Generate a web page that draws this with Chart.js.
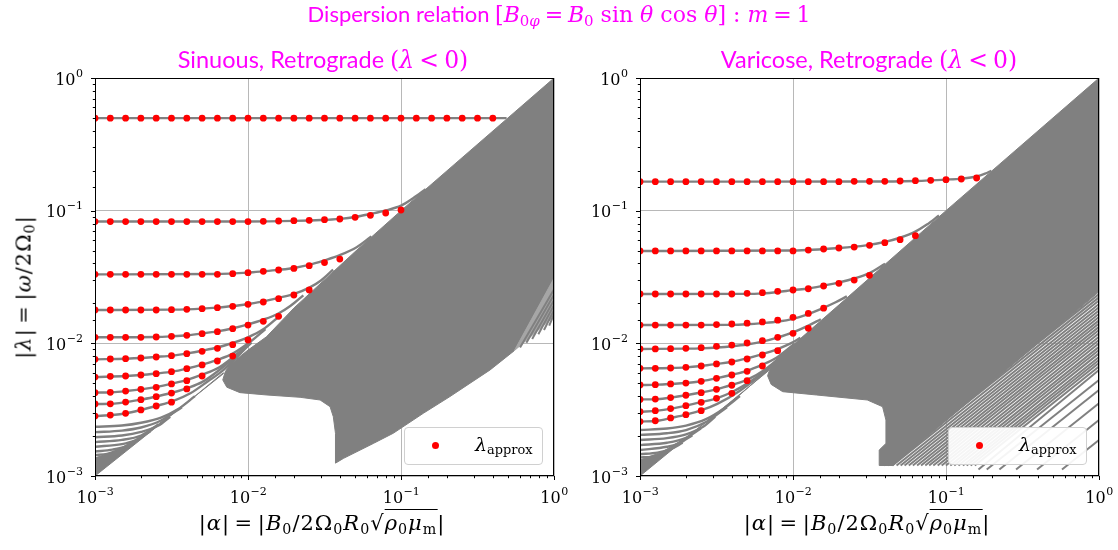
<!DOCTYPE html>
<html><head><meta charset="utf-8">
<script src="https://cdn.jsdelivr.net/npm/chart.js@4.4.1/dist/chart.umd.min.js"></script>
<style>
body{margin:0;background:#fff;}
#wrap{position:relative;width:1118px;height:550px;overflow:hidden;background:#fff;}
canvas{position:absolute;top:0;}
.t{position:absolute;white-space:nowrap;transform:translateX(-50%);line-height:1;}
.mag{color:#ff00ff;font-family:Lato,sans-serif;font-size:22px;}
.sub{font-size:23.5px;}
.mm{font-family:'DejaVu Serif',serif;}
.mm i{font-style:italic;}
.eq{margin:0 0.22em;}
sub{font-size:68%;vertical-align:-0.25em;line-height:0;}
.ax{font-family:'DejaVu Serif',serif;font-size:21px;letter-spacing:1px;color:#000;}
.leg{position:absolute;width:137px;height:36px;border:1px solid #d0d0d0;border-radius:4px;background:rgba(255,255,255,0.92);}
.leg .dot{position:absolute;left:27px;top:14px;width:7px;height:7px;border-radius:50%;background:#ff0000;}
.leg .lt{position:absolute;left:70px;top:7px;font-family:'DejaVu Serif',serif;font-size:19px;line-height:1;color:#000;}
</style></head>
<body><div id="wrap">
<canvas id="c1" width="600" height="550" style="left:0px"></canvas>
<canvas id="c2" width="558" height="550" style="left:560px"></canvas>

<div class="t mag" style="left:559px;top:3px">Dispersion relation <span class="mm">[<i>B</i><sub>0<i>φ</i></sub><span class="eq">=</span><i>B</i><sub>0</sub> sin <i>θ</i> cos <i>θ</i>] : <i>m</i><span class="eq">=</span>1</span></div>
<div class="t mag sub" style="left:323px;top:48px">Sinuous, Retrograde <span class="mm">(<i>λ</i><span class="eq">&lt;</span>0)</span></div>
<div class="t mag sub" style="left:869px;top:48px">Varicose, Retrograde <span class="mm">(<i>λ</i><span class="eq">&lt;</span>0)</span></div>

<div class="t ax mm" style="left:322px;top:513px">|<i>α</i>|<span class="eq">=</span>|<i>B</i><sub>0</sub>/2Ω<sub>0</sub><i>R</i><sub>0</sub>√<span style="border-top:1px solid #000;padding-top:1px"><i>ρ</i><sub>0</sub><i>μ</i><sub>m</sub></span>|</div>
<div class="t ax mm" style="left:867px;top:513px">|<i>α</i>|<span class="eq">=</span>|<i>B</i><sub>0</sub>/2Ω<sub>0</sub><i>R</i><sub>0</sub>√<span style="border-top:1px solid #000;padding-top:1px"><i>ρ</i><sub>0</sub><i>μ</i><sub>m</sub></span>|</div>
<div class="ax mm" style="position:absolute;left:24px;top:287px;white-space:nowrap;line-height:1;font-size:21px;letter-spacing:1px;transform:translate(-50%,-50%) rotate(-90deg);">|<i>λ</i>|<span class="eq">=</span>|<i>ω</i>/2Ω<sub>0</sub>|</div>

<div class="leg" style="left:404px;top:427px"><div class="dot"></div><div class="lt"><i>λ</i><sub>approx</sub></div></div>
<div class="leg" style="left:948px;top:427px"><div class="dot"></div><div class="lt"><i>λ</i><sub>approx</sub></div></div>
</div>
<script>
// ---------------- data ----------------
const dotX = [0.001, 0.001259, 0.001585, 0.001995, 0.002512, 0.003162, 0.003981, 0.005012, 0.00631, 0.007943,
  0.01, 0.01259, 0.01585, 0.01995, 0.02512, 0.03162, 0.03981, 0.05012, 0.0631, 0.07943,
  0.1, 0.1259, 0.1585, 0.1995, 0.2512, 0.3162, 0.3981];

// Sinuous panel: lambda_approx rows
const sinDotsY = [
  [0.498,0.498,0.498,0.498,0.498,0.498,0.498,0.498,0.498,0.498,0.498,0.498,0.498,0.498,0.498,0.498,0.498,0.498,0.498,0.498,0.498,0.498,0.498,0.498,0.498,0.498,0.498],
  [0.0828,0.0828,0.0828,0.0828,0.0828,0.0828,0.0828,0.0828,0.0828,0.0828,0.0828,0.0831,0.0836,0.0841,0.0846,0.0855,0.0865,0.0891,0.0922,0.096,0.1012],
  [0.0331,0.0331,0.0331,0.0331,0.0331,0.0331,0.0331,0.0331,0.0331,0.0335,0.0341,0.0349,0.0357,0.0367,0.0385,0.0406,0.0432],
  [0.01784,0.01784,0.01784,0.01784,0.01784,0.01794,0.01805,0.01826,0.01858,0.01901,0.01968,0.02049,0.02171,0.02313,0.02523],
  [0.0111,0.0111,0.0111,0.0111,0.01116,0.01129,0.01149,0.01183,0.01225,0.0129,0.01374,0.01465,0.01598],
  [0.00757,0.00762,0.00766,0.00775,0.00789,0.00807,0.00836,0.0087,0.00917,0.00977,0.0106],
  [0.00557,0.00564,0.00567,0.00577,0.00591,0.00611,0.00644,0.00687,0.00736,0.00802],
  [0.00425,0.00427,0.00437,0.0045,0.00466,0.00494,0.00523,0.00567],
  [0.00349,0.0035,0.00361,0.00376,0.00396,0.00422,0.00453],
  [0.00283,0.00288,0.00297,0.00315,0.00337,0.0036]
];
// Varicose panel: lambda_approx rows
const varDotsY = [
  [0.1655,0.1655,0.1655,0.1655,0.1655,0.1655,0.1655,0.1655,0.1655,0.1655,0.1655,0.1655,0.1655,0.1655,0.1664,0.1664,0.1664,0.1673,0.1683,0.1693,0.1713,0.1733,0.1763],
  [0.0497,0.0497,0.0497,0.0497,0.0497,0.0497,0.0497,0.0497,0.0497,0.0497,0.0497,0.0505,0.0514,0.0523,0.0532,0.0548,0.0574,0.0604,0.0648],
  [0.02354,0.02354,0.02354,0.02354,0.02354,0.02354,0.02354,0.0238,0.0241,0.02466,0.02523,0.0258,0.02705,0.02833,0.03,0.03255],
  [0.01374,0.01374,0.01374,0.01374,0.01374,0.01385,0.01399,0.0142,0.0145,0.01495,0.0157,0.0168,0.0184],
  [0.00907,0.00907,0.00912,0.00917,0.00928,0.0095,0.00971,0.01006,0.01047,0.0111,0.0119,0.01297],
  [0.00648,0.00648,0.00652,0.00659,0.00675,0.00699,0.00723,0.00762,0.00817,0.0088],
  [0.00485,0.00488,0.00494,0.00502,0.00517,0.00545,0.00577,0.00615,0.00675],
  [0.00378,0.0038,0.0039,0.00406,0.00425,0.0045,0.00483,0.00523],
  [0.00305,0.00311,0.00322,0.00339,0.00359,0.00385,0.0042],
  [0.00257,0.00261,0.00274,0.0029,0.00311]
];

// grey dispersion curves, Sinuous
const sinCurvesX = [
  [0.001,0.49],
  [0.001,0.01,0.02,0.03,0.04,0.05,0.063,0.08,0.1,0.12,0.145],
  [0.001,0.006,0.01,0.0126,0.0158,0.02,0.0251,0.0316,0.0398,0.0513,0.064],
  [0.001,0.0032,0.005,0.0063,0.008,0.01,0.0126,0.0158,0.02,0.025,0.03,0.036],
  [0.001,0.0025,0.0032,0.004,0.005,0.0063,0.008,0.01,0.0126,0.0158,0.019,0.023],
  [0.001,0.0016,0.002,0.0025,0.0032,0.004,0.005,0.0063,0.008,0.01,0.0125,0.016],
  [0.001,0.0016,0.002,0.0025,0.0032,0.004,0.005,0.0063,0.008,0.0105,0.013],
  [0.001,0.0013,0.0016,0.002,0.0025,0.0032,0.004,0.005,0.0065,0.0105],
  [0.001,0.0013,0.0016,0.002,0.0025,0.0032,0.004,0.005,0.0065,0.0105],
  [0.001,0.0013,0.0016,0.002,0.0025,0.0032,0.0042,0.0055,0.0068,0.0105],
  [0.001,0.0015,0.002,0.0027,0.0035,0.0045],
  [0.001,0.0015,0.002,0.0027,0.0037],
  [0.001,0.0015,0.002,0.0026,0.0031],
  [0.001,0.0015,0.002,0.0026],
  [0.001,0.0015,0.0018,0.0023],
  [0.001,0.0013,0.0016,0.002],
  [0.001,0.0012,0.0014,0.0017]
];
const sinCurvesY = [
  [0.498,0.498],
  [0.0828,0.0829,0.0838,0.085,0.0868,0.0895,0.0944,0.1005,0.109,0.124,0.145],
  [0.0331,0.0333,0.0341,0.0349,0.0358,0.037,0.039,0.0422,0.0462,0.053,0.064],
  [0.01784,0.01794,0.01826,0.0186,0.0191,0.0198,0.0207,0.022,0.0236,0.0262,0.0298,0.036],
  [0.0111,0.01116,0.0113,0.0115,0.01185,0.0123,0.013,0.0139,0.0151,0.0168,0.0192,0.023],
  [0.00757,0.00766,0.00775,0.0079,0.00808,0.0084,0.0088,0.0093,0.0101,0.0111,0.0127,0.016],
  [0.00557,0.00567,0.00577,0.00592,0.00612,0.00646,0.0069,0.0075,0.0084,0.0104,0.0128],
  [0.00425,0.00428,0.00437,0.0045,0.00468,0.00497,0.0053,0.0058,0.0066,0.0102],
  [0.00349,0.0035,0.00361,0.00376,0.00397,0.00424,0.0046,0.0051,0.0063,0.0101],
  [0.00283,0.00288,0.00297,0.00315,0.00337,0.00365,0.0042,0.0052,0.0062,0.0101],
  [0.00235,0.0024,0.00252,0.00276,0.0032,0.004],
  [0.00214,0.0022,0.00232,0.00262,0.0033],
  [0.00196,0.00202,0.00215,0.0024,0.0028],
  [0.0018,0.00187,0.00202,0.00245],
  [0.00166,0.00174,0.00184,0.00218],
  [0.00153,0.00158,0.00168,0.00195],
  [0.00144,0.00147,0.00156,0.00175]
];
// grey dispersion curves, Varicose
const varCurvesX = [
  [0.001,0.03,0.063,0.1,0.126,0.158,0.18,0.198],
  [0.001,0.01,0.02,0.03,0.04,0.05,0.063,0.075,0.09],
  [0.001,0.005,0.0063,0.008,0.01,0.0126,0.0158,0.02,0.0251,0.0316,0.04],
  [0.001,0.004,0.005,0.0063,0.008,0.01,0.0126,0.0158,0.019,0.0225],
  [0.001,0.002,0.0025,0.0032,0.004,0.005,0.0063,0.008,0.01,0.0126,0.0152],
  [0.001,0.0016,0.002,0.0025,0.0032,0.004,0.005,0.0063,0.008,0.0095,0.0112],
  [0.001,0.0013,0.0016,0.002,0.0025,0.0032,0.004,0.005,0.0063,0.0078,0.0102],
  [0.001,0.0013,0.0016,0.002,0.0025,0.0032,0.004,0.005,0.0065,0.0102],
  [0.001,0.0013,0.0016,0.002,0.0025,0.0032,0.004,0.0052,0.0067,0.0102],
  [0.001,0.0013,0.0016,0.002,0.0025,0.0032,0.0045,0.0068,0.0102],
  [0.001,0.0015,0.002,0.0027,0.0035,0.0045],
  [0.001,0.0015,0.002,0.0027,0.0037],
  [0.001,0.0015,0.002,0.0026,0.0031],
  [0.001,0.0015,0.002,0.0025],
  [0.001,0.0015,0.0018,0.0022],
  [0.001,0.0013,0.0016,0.0019],
  [0.001,0.0012,0.0014,0.0016]
];
const varCurvesY = [
  [0.1655,0.1658,0.1675,0.1715,0.1745,0.181,0.19,0.2],
  [0.0497,0.0501,0.0523,0.0548,0.0582,0.0625,0.0695,0.0785,0.092],
  [0.02354,0.02358,0.0238,0.0244,0.0252,0.0259,0.0272,0.0288,0.0308,0.0338,0.0398],
  [0.01374,0.01378,0.01392,0.0142,0.0146,0.0153,0.0166,0.0185,0.0204,0.0226],
  [0.00907,0.00912,0.00917,0.0093,0.0095,0.0098,0.0103,0.0111,0.0121,0.0136,0.0152],
  [0.00648,0.00652,0.00659,0.00675,0.007,0.00726,0.0077,0.0083,0.0091,0.0099,0.011],
  [0.00485,0.00488,0.00494,0.00502,0.00518,0.00547,0.0058,0.0062,0.0069,0.0078,0.0099],
  [0.00378,0.0038,0.0039,0.00406,0.00426,0.00452,0.00487,0.0053,0.0063,0.0098],
  [0.00305,0.00311,0.00322,0.00339,0.0036,0.00387,0.0043,0.0051,0.0063,0.0098],
  [0.00257,0.00261,0.00274,0.0029,0.00312,0.0035,0.0044,0.0063,0.0098],
  [0.00222,0.00228,0.0024,0.00268,0.0032,0.004],
  [0.00204,0.0021,0.00222,0.00255,0.0033],
  [0.00187,0.00193,0.00206,0.00236,0.0028],
  [0.00171,0.00178,0.00194,0.00228],
  [0.00157,0.00166,0.00176,0.00203],
  [0.00146,0.0015,0.0016,0.00178],
  [0.00138,0.0014,0.00147,0.0016]
];

// dense grey areas (outline of the many overlapping curves)
const sinRegionX = [0.00684,0.0071,0.0076,0.01,0.0132,0.02,0.05,0.1,1,1,0.55,0.382,0.209,0.14,0.089,0.066,0.0422,0.0373,0.0373,0.0361,0.0344,0.0296,0.0219,0.0133,0.00886,0.00727,0.00684];
const sinRegionY = [0.0053,0.0061,0.0069,0.0089,0.0112,0.0185,0.049,0.1,1,0.031,0.0088,0.0063,0.00397,0.00297,0.0021,0.00176,0.00136,0.00125,0.0021,0.0028,0.00333,0.00374,0.00392,0.00408,0.00425,0.00467,0.0053];
// lighter, sparsely hatched corner next to alpha = 1
const sinHatchX = [0.55,1,1,0.55];
const sinHatchY = [0.0088,0.031,0.0159,0.0088];
const sinWedgeX = [0.001,0.0069,0.0069,0.0045,0.003,0.002,0.0014,0.001];
const sinWedgeY = [0.001,0.0059,0.006,0.004,0.0028,0.00195,0.00155,0.00137];
const varRegionX = [0.00682,0.0071,0.0076,0.0085,0.01,0.02,0.1,1,1,0.045,0.0366,0.0366,0.0405,0.0405,0.0385,0.0306,0.01426,0.00857,0.0072,0.00682];
const varRegionY = [0.0057,0.0065,0.0073,0.0084,0.0097,0.0195,0.1,1,0.0245,0.0012,0.0012,0.00157,0.00176,0.00264,0.00333,0.00374,0.00408,0.00432,0.0049,0.0057];
const varHatchX = [];
const varHatchY = [];
const varWedgeX = [0.001,0.0069,0.0069,0.0045,0.003,0.002,0.0014,0.001];
const varWedgeY = [0.001,0.0062,0.0063,0.0041,0.0028,0.00195,0.00152,0.00132];

// separate straight branches at the lower right (start point, end at alpha = 1)
const sinStripeX0 = [0.6,0.66,0.72,0.79,0.86,0.93];
const sinStripeY0 = [0.0093,0.0101,0.0108,0.0117,0.0126,0.0136];
const sinStripeY1 = [0.0255,0.0232,0.0211,0.0194,0.0178,0.0166];
const varStripeX0 = [0.0394,0.0419,0.0446,0.0475,0.0505,0.0536,0.0571,0.0607,0.0647,0.0687,0.0732,0.0776,0.0826,0.0882,0.0937,0.0998,0.1067,0.1132,0.1206,0.1289,0.1364,0.1448,0.1542,
                     0.163,0.1846,0.2233,0.2871,0.3937,0.5728];
const varStripeY0 = [0.0012,0.0012,0.0012,0.0012,0.0012,0.0012,0.0012,0.0012,0.0012,0.0012,0.0012,0.0012,0.0012,0.0012,0.0012,0.0012,0.0012,0.0012,0.0012,0.0012,0.0012,0.0012,0.0012,
                     0.00112,0.00112,0.00112,0.00112,0.00112,0.00112];
const varStripeY1 = [0.0235,0.0222,0.021,0.0198,0.0187,0.0177,0.0167,0.0158,0.0149,0.0141,0.0133,0.0126,0.0119,0.0112,0.0106,0.01,0.0094,0.0089,0.0084,0.0079,0.0075,0.0071,0.0067,
                     0.0063,0.0053,0.00445,0.00353,0.00264,0.00187];

const tickDecades = [-3,-2,-1,0];

// ---------------- drawing ----------------
const GREY = '#808080';
function pts(xs, ys){ return xs.map((x,i)=>({x:x, y:ys[i]})); }
function isMajor(v){ const l=Math.log10(v); return Math.abs(l-Math.round(l))<1e-7; }

function buildDatasets(P){
  const ds = [];
  ds.push({data:pts(P.regionX,P.regionY), showLine:true, fill:'shape', backgroundColor:GREY, borderColor:GREY, borderWidth:1, pointRadius:0, tension:0, order:6});
  ds.push({data:pts(P.wedgeX,P.wedgeY), showLine:true, fill:'shape', backgroundColor:GREY, borderColor:GREY, borderWidth:1, pointRadius:0, tension:0, order:6});
  if (P.hatchX.length) ds.push({data:pts(P.hatchX,P.hatchY), showLine:true, fill:'shape', backgroundColor:'#a6a6a6', borderColor:'#a6a6a6', borderWidth:1, pointRadius:0, tension:0, order:5});
  P.stripeX0.forEach((x0,i)=>{
    ds.push({data:pts([x0,1],[P.stripeY0[i],P.stripeY1[i]]), showLine:true, fill:false, borderColor:GREY, borderWidth:2, pointRadius:0, order:4});
  });
  P.curvesX.forEach((xs,i)=>{
    ds.push({data:pts(xs,P.curvesY[i]), showLine:true, fill:false, borderColor:GREY, borderWidth:2.4, pointRadius:0, cubicInterpolationMode:'monotone', order:3});
  });
  P.dotsY.forEach(row=>{
    ds.push({data:pts(dotX.slice(0,row.length),row), showLine:false, pointRadius:3.4, pointBackgroundColor:'#ff0000', pointBorderWidth:0, pointHoverRadius:3.4, order:1});
  });
  return ds;
}

const decor = {
  id:'decor',
  afterDraw(chart){
    const ctx = chart.ctx, a = chart.chartArea, sx = chart.scales.x, sy = chart.scales.y;
    ctx.save();
    ctx.strokeStyle = '#000'; ctx.lineWidth = 1;
    ctx.beginPath();
    sx.ticks.forEach(t=>{ const p=Math.round(sx.getPixelForValue(t.value))+0.5; const L=isMajor(t.value)?4:2.2; ctx.moveTo(p,a.bottom); ctx.lineTo(p,a.bottom+L); });
    sy.ticks.forEach(t=>{ const p=Math.round(sy.getPixelForValue(t.value))+0.5; const L=isMajor(t.value)?4:2.2; ctx.moveTo(a.left,p); ctx.lineTo(a.left-L,p); });
    ctx.stroke();
    ctx.strokeRect(a.left+0.5, a.top+0.5, a.right-a.left-1, a.bottom-a.top-1);
    ctx.fillStyle = '#000';
    ctx.textBaseline = 'alphabetic';
    const bigF = '16px "DejaVu Serif"', supF = '11px "DejaVu Serif"';
    tickDecades.forEach(d=>{
      const v = Math.pow(10,d);
      const ex = d===0 ? '0' : '\u2212'+(-d);
      ctx.font = bigF; const w1 = ctx.measureText('10').width;
      ctx.font = supF; const w2 = ctx.measureText(ex).width;
      const px = sx.getPixelForValue(v);
      let x0 = px - (w1+w2)/2;
      ctx.textAlign = 'left';
      ctx.font = bigF; ctx.fillText('10', x0, 503);
      ctx.font = supF; ctx.fillText(ex, x0+w1+0.5, 495);
      const py = sy.getPixelForValue(v);
      const xr = a.left - 12;
      ctx.font = bigF; ctx.fillText('10', xr-w2-w1-0.5, py+6.5);
      ctx.font = supF; ctx.fillText(ex, xr-w2, py-1.5);
    });
    ctx.restore();
  }
};

function makeChart(id, P, yWidth, padRight){
  return new Chart(document.getElementById(id), {
    type:'scatter',
    data:{datasets:buildDatasets(P)},
    options:{
      responsive:false, animation:false, devicePixelRatio:1, events:[],
      layout:{padding:{top:78,right:padRight,bottom:0,left:0}},
      plugins:{legend:{display:false}, tooltip:{enabled:false}, title:{display:false}},
      scales:{
        x:{type:'logarithmic', min:0.001, max:1, position:'bottom',
           ticks:{display:false}, border:{display:false},
           grid:{drawTicks:false, lineWidth:1, color:c=>(c.tick && isMajor(c.tick.value))?'#b8b8b8':'rgba(0,0,0,0)'},
           afterFit:s=>{s.height=74;}},
        y:{type:'logarithmic', min:0.001, max:1, position:'left',
           ticks:{display:false}, border:{display:false},
           grid:{drawTicks:false, lineWidth:1, color:c=>(c.tick && isMajor(c.tick.value))?'#b8b8b8':'rgba(0,0,0,0)'},
           afterFit:s=>{s.width=yWidth;}}
      }
    },
    plugins:[decor]
  });
}

makeChart('c1', {regionX:sinRegionX, regionY:sinRegionY, wedgeX:sinWedgeX, wedgeY:sinWedgeY, hatchX:sinHatchX, hatchY:sinHatchY,
  stripeX0:sinStripeX0, stripeY0:sinStripeY0, stripeY1:sinStripeY1,
  curvesX:sinCurvesX, curvesY:sinCurvesY, dotsY:sinDotsY}, 95, 46);
makeChart('c2', {regionX:varRegionX, regionY:varRegionY, wedgeX:varWedgeX, wedgeY:varWedgeY, hatchX:varHatchX, hatchY:varHatchY,
  stripeX0:varStripeX0, stripeY0:varStripeY0, stripeY1:varStripeY1,
  curvesX:varCurvesX, curvesY:varCurvesY, dotsY:varDotsY}, 80, 19);
</script>
</body></html>
